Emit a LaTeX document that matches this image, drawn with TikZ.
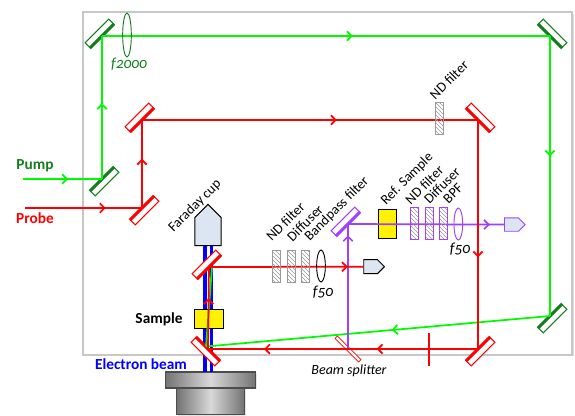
\documentclass[tikz,border=0pt]{standalone}
\usepackage{fontspec}
\setmainfont[Numbers=OldStyle]{Carlito}
\usepackage{xcolor}
\usetikzlibrary{arrows.meta,patterns,shadows,shapes.geometric,shapes.symbols,decorations.markings}
\definecolor{pumpgreen}{RGB}{0,250,0}
\definecolor{darkmirror}{RGB}{20,125,30}
\definecolor{purplebeam}{RGB}{160,64,255}
\definecolor{cupblue}{RGB}{220,230,242}

\begin{document}
\begin{tikzpicture}[
    x=0.75pt, y=-0.75pt,
    font=\fontsize{10.5pt}{12pt}\selectfont,
    frame/.style={draw=black!22, line width=1.1pt, fill=white, drop shadow={shadow xshift=1pt, shadow yshift=-1pt, opacity=0.25}},
    mirror/.style={draw=#1, fill=white, line width=0.8pt, minimum width=25pt, minimum height=5pt, inner sep=0pt, anchor=north,
        append after command={(\tikzlastnode.north west) edge[draw=#1, line width=2.2pt] (\tikzlastnode.north east)}},
    splitter/.style={draw=red, fill=white, line width=0.5pt, minimum width=25pt, minimum height=2.5pt, inner sep=0pt},
    filter/.style={draw=#1, line width=0.6pt, pattern=north west lines, pattern color=black!40, minimum width=6pt, minimum height=24pt, inner sep=0pt},
    lens/.style={draw=#1, ellipse, line width=0.7pt, inner sep=0pt, minimum width=6.5pt, minimum height=24pt},
    cup/.style={draw=#1, fill=cupblue, signal, line width=0.7pt, inner sep=0pt, signal pointer angle=90},
    samplebox/.style={draw=black, fill=yellow, line width=0.6pt, inner sep=0pt},
    gun/.style={draw=black!70, line width=0.8pt, inner sep=0pt, left color=black!55, right color=black!55, middle color=black!15, drop shadow={shadow xshift=1pt, shadow yshift=-1pt, opacity=0.2}},
    beam/.style={line width=1.3pt},
    ebeam/.style={draw=blue, line width=2.7pt},
    tipat/.style={postaction={decorate, decoration={markings, mark=at position #1 with {\arrow{Straight Barb[length=3.5pt,width=7pt]}}}}},
    tag/.style={rotate=45, inner sep=0pt},
    heading/.style={font=\fontsize{11.5pt}{13pt}\selectfont\bfseries, inner sep=0pt},
    focal/.style={font=\fontsize{11.5pt}{13pt}\selectfont\itshape, inner sep=0pt}
]
\useasboundingbox (0,0) rectangle (575,415);
\node[frame, minimum width=367pt, minimum height=257pt, inner sep=0pt] (table) at (327.5,183.5) {};

% electron beam side
\node[cup=black, signal to=north, anchor=south, minimum width=19.7pt, minimum height=21pt] (fcup) at (208,246) {};
\node[gun, minimum width=51pt, minimum height=20pt] (gunlow) at (210.5,401) {};
\node[gun, minimum width=68pt, minimum height=12pt] (guntop) at (210.5,380) {};
\coordinate (ebl) at (204.7,372);
\coordinate (ebr) at (211.3,372);
\draw[ebeam] (ebl) -- (ebl |- fcup.south);
\draw[ebeam] (ebr) -- (ebr |- fcup.south);
\node[samplebox, minimum width=22pt, minimum height=13.7pt] (sample) at (209,319) {};
\node[samplebox, minimum width=13.8pt, minimum height=21.8pt] (refsample) at (387.5,223.8) {};

% mirrors
\node[mirror=darkmirror, rotate=-135] (mgtl) at (102,36) {};
\node[mirror=darkmirror, rotate=45] (mgin) at (102,179) {};
\node[mirror=darkmirror, rotate=135] (mgtr) at (550,36) {};
\node[mirror=darkmirror, rotate=45] (mgbr) at (550,316) {};
\node[mirror=red, rotate=-135] (mrtl) at (142,120) {};
\node[mirror=red, rotate=45] (mrin) at (142,208) {};
\node[mirror=red, rotate=135] (mrtr) at (478,120) {};
\node[mirror=red, rotate=45] (mrbr) at (478,349) {};
\node[mirror=red, rotate=-45] (mrlow) at (208,349) {};
\node[mirror=red, rotate=-135] (mrup) at (209,267) {};
\node[mirror=purplebeam, rotate=-135] (bpf) at (348,224) {};
\node[splitter, rotate=-45] (split) at (348,349) {};

\coordinate (pumpin) at (23,179);
\coordinate (probein) at (25,208);
\coordinate (greenlow) at (206,346.5);
\coordinate (greenup) at (212,267);

% pump
\draw[beam, pumpgreen, tipat=0.57] (pumpin) -- (mgin.north);
\draw[beam, pumpgreen, tipat=0.53] (mgin.north) -- (mgtl.north);
\draw[beam, pumpgreen, tipat=0.56] (mgtl.north) -- (mgtr.north);
\draw[beam, pumpgreen, tipat=0.43] (mgtr.north) -- (mgbr.north);
\draw[beam, pumpgreen, tipat=0.46] (mgbr.north) -- (greenlow);
\draw[beam, pumpgreen] (greenlow) -- (greenup);

% probe
\node[cup=black, anchor=west, minimum width=15.5pt, minimum height=10.5pt] (detred) at (363.3,266.7) {};
\node[cup=purplebeam, anchor=west, minimum width=15.5pt, minimum height=10pt] (detpurple) at (504,224.6) {};
\draw[beam, purplebeam, tipat=0.91] (split.center) -- (bpf.north);
\draw[beam, purplebeam, tipat=0.91] (bpf.north) -- (detpurple.west);
\draw[beam, red, tipat=0.69] (probein) -- (mrin.north);
\draw[beam, red, tipat=0.56] (mrin.north) -- (mrtl.north);
\draw[beam, red, tipat=0.58] (mrtl.north) -- (mrtr.north);
\draw[beam, red, tipat=0.6] (mrtr.north) -- (mrbr.north);
\draw[beam, red, tipat=0.78] (mrbr.north) -- (split.center);
\draw[beam, red, tipat=0.6] (split.center) -- (mrlow.north);
\draw[beam, red, tipat=0.62] (mrlow.north) -- (mrup.north);
\draw[beam, red, tipat=0.9] (mrup.north) -- (detred.west);
\draw[red, line width=1.5pt] (429,333) -- (429,366);

% filters and lenses
\node[filter=black!40] (ndtop) at (439.7,118) {};
\node[filter=black!40] (ndred) at (276.7,266) {};
\node[filter=black!40] (diffred) at (291,266) {};
\node[filter=black!40] (extrared) at (305.3,266) {};
\node[filter=purplebeam] (ndpurple) at (414.7,223.5) {};
\node[filter=purplebeam] (diffpurple) at (429.7,223.5) {};
\node[filter=purplebeam] (extrapurple) at (443.7,223.5) {};
\node[lens=darkmirror, minimum height=33pt] (lensgreen) at (127,35) {};
\node[lens=black] (lensred) at (321,266) {};
\node[lens=purplebeam] (lenspurple) at (458.3,224) {};

% labels
\node[heading, text=darkmirror] (pumptext) at (35,166) {Pump};
\node[heading, text=red] (probetext) at (35,218) {Probe};
\node[heading] (sampletext) at (159,319) {Sample};
\node[heading, text=blue] (ebeamtext) at (141,364) {Electron beam};
\node[focal, text=darkmirror] (fgreen) at (129,64) {f2000};
\node[focal] (fred) at (323,291.7) {f50};
\node[focal] (fpurple) at (460,249.3) {f50};
\node[font=\fontsize{10.5pt}{12pt}\selectfont\itshape] (splittext) at (349,370.7) {Beam splitter};
\node[tag] (cuptext) at (195,206) {Faraday cup};
\node[tag] (ndtoptext) at (449,80) {ND filter};
\node[tag] (ndredtext) at (285.5,221.5) {ND filter};
\node[tag] (diffredtext) at (305,223) {Diffuser};
\node[tag] (bpftext) at (337,209) {Bandpass filter};
\node[tag] (reftext) at (407.3,179) {Ref. Sample};
\node[tag] (ndpurpletext) at (424.3,185) {ND filter};
\node[tag] (diffpurpletext) at (442,185.7) {Diffuser};
\node[tag] (bpfpurpletext) at (453,193.3) {BPF};
\end{tikzpicture}
\end{document}
